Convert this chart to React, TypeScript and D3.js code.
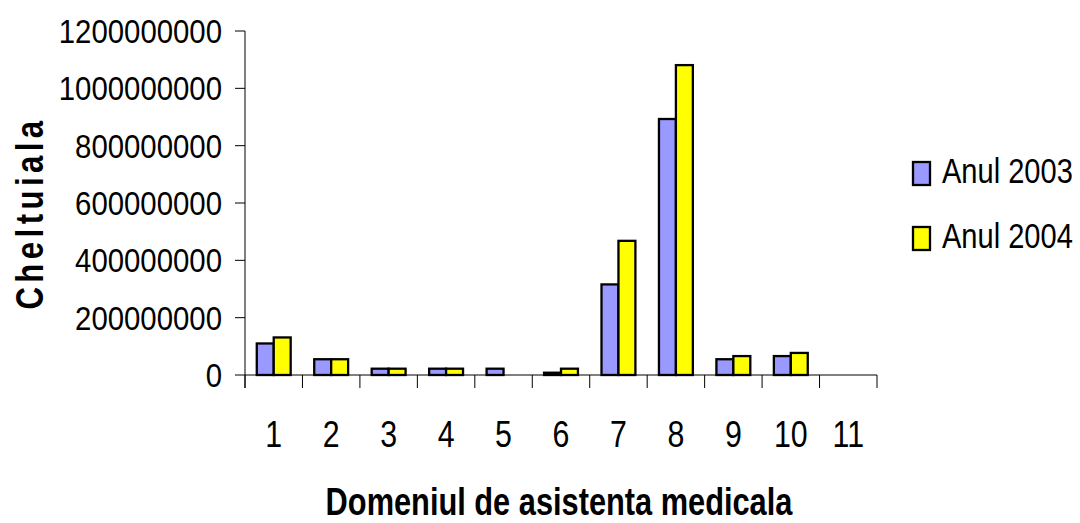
import { useMemo } from 'react';
import type { ReactNode } from 'react';
import * as d3 from 'd3';

const categories = ['1', '2', '3', '4', '5', '6', '7', '8', '9', '10', '11'];
const series = ['Anul 2003', 'Anul 2004'];
const values2003 = [110e6, 55e6, 22e6, 22e6, 22e6, 8e6, 316e6, 893e6, 55e6, 66e6, 0];
const values2004 = [131e6, 55e6, 22e6, 22e6, 0, 22e6, 468e6, 1081e6, 66e6, 77e6, 0];
const yTicks = [0, 200000000, 400000000, 600000000, 800000000, 1000000000, 1200000000];
const colors = ['#9999FF', '#FFFF00'];

const W = 1080;
const H = 523;
const PLOT = { left: 245, right: 877, top: 31, bottom: 375 };
const FONT = "'Liberation Sans', Arial, sans-serif";

// no narrow font installed, so squeeze Liberation Sans horizontally
function Narrow({
  x, y, sx = 0.82, rotate = 0, anchor = 'start', size, bold, spacing, children,
}: {
  x: number; y: number; sx?: number; rotate?: number; anchor?: string;
  size: number; bold?: boolean; spacing?: number; children: ReactNode;
}) {
  return (
    <g transform={`translate(${x},${y}) rotate(${rotate}) scale(${sx},1)`}>
      <text
        x={0}
        y={0}
        textAnchor={anchor}
        fontFamily={FONT}
        fontSize={size}
        fontWeight={bold ? 'bold' : 'normal'}
        letterSpacing={spacing}
        fill="#000"
      >
        {children}
      </text>
    </g>
  );
}

export default function App() {
  const chart = useMemo(() => {
    const x = d3.scaleBand<string>().domain(categories).range([PLOT.left, PLOT.right]).padding(0);
    const bw = x.bandwidth();
    // bar pair takes ~59% of each category slot
    const inner = d3.scaleBand<string>().domain(series).range([bw * 0.205, bw * 0.795]).padding(0);
    const y = d3.scaleLinear().domain([0, 1200000000]).range([PLOT.bottom, PLOT.top]);
    const rows = categories.map((c, i) => ({ c, vals: [values2003[i], values2004[i]] }));
    const bounds = categories.map((c) => x(c) as number).concat([PLOT.right]);
    return { x, inner, y, rows, bounds };
  }, []);

  const { x, inner, y, rows, bounds } = chart;

  return (
    <svg
      width={W}
      height={H}
      viewBox={`0 0 ${W} ${H}`}
      style={{ position: 'absolute', left: 0, top: 0, background: '#fff' }}
    >
      {/* bars */}
      {rows.map((r) => (
        <g key={r.c} transform={`translate(${x(r.c)},0)`}>
          {r.vals.map((v, si) =>
            v > 0 ? (
              <rect
                key={si}
                x={inner(series[si])}
                y={y(v)}
                width={inner.bandwidth()}
                height={y(0) - y(v)}
                fill={colors[si]}
                stroke="#000"
                strokeWidth={2.3}
              />
            ) : null
          )}
        </g>
      ))}

      {/* y axis */}
      <line x1={PLOT.left} x2={PLOT.left} y1={PLOT.top} y2={PLOT.bottom + 13} stroke="#000" strokeWidth={1} />
      {yTicks.map((t) => (
        <g key={t}>
          <line x1={PLOT.left - 10} x2={PLOT.left} y1={y(t)} y2={y(t)} stroke="#000" strokeWidth={1} />
          <Narrow x={222} y={y(t) + 12} sx={0.89} anchor="end" size={33}>
            {t}
          </Narrow>
        </g>
      ))}

      {/* x axis */}
      <line x1={PLOT.left} x2={PLOT.right} y1={PLOT.bottom} y2={PLOT.bottom} stroke="#000" strokeWidth={1} />
      {bounds.map((b, i) => (
        <line key={i} x1={b} x2={b} y1={PLOT.bottom} y2={PLOT.bottom + 13} stroke="#000" strokeWidth={1} />
      ))}
      {categories.map((c) => (
        <Narrow key={c} x={(x(c) as number) + x.bandwidth() / 2} y={447} anchor="middle" size={37}>
          {c}
        </Narrow>
      ))}

      {/* axis titles */}
      <Narrow x={559} y={515} sx={0.81} anchor="middle" size={38} bold>
        Domeniul de asistenta medicala
      </Narrow>
      <Narrow x={43} y={213} rotate={-90} sx={0.82} anchor="middle" size={38} bold spacing={5.4}>
        Cheltuiala
      </Narrow>

      {/* legend */}
      {series.map((s, i) => (
        <g key={s}>
          <rect x={913} y={162 + i * 65} width={17} height={23} fill={colors[i]} stroke="#000" strokeWidth={2.3} />
          <Narrow x={942} y={183 + i * 65} sx={0.83} size={35}>
            {s}
          </Narrow>
        </g>
      ))}
    </svg>
  );
}
